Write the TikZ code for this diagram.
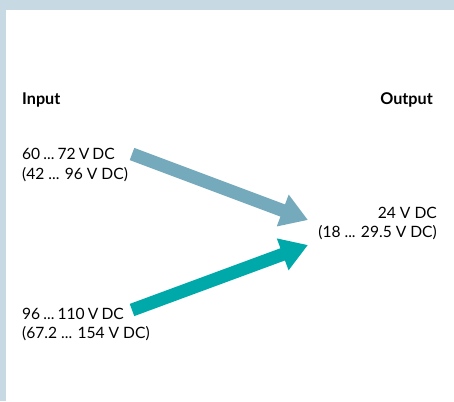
\documentclass[tikz,border=0pt]{standalone}
\usepackage{fontspec}
\setmainfont{Lato}
\usetikzlibrary{arrows.meta}
\definecolor{frameblue}{HTML}{C7DAE4}
\definecolor{arrowgray}{HTML}{75AABD}
\definecolor{arrowteal}{HTML}{00A9A9}
\newcommand{\tsp}{\hspace{0.2em}}
\tikzset{
  lbl/.style={inner sep=0pt, font=\fontsize{15.6}{19.5}\selectfont, text=black},
  hdr/.style={inner sep=0pt, font=\fontsize{16.2}{18}\selectfont\bfseries, text=black},
  fat/.style={line width=13pt, -{Triangle[length=27pt,width=32pt]}},
}
\begin{document}
\begin{tikzpicture}[x=1pt,y=-1pt]
\useasboundingbox (0,0) rectangle (454,401);
\fill[white] (0,0) rectangle (454,401);
\fill[frameblue] (0,0) rectangle (454,10);
\fill[frameblue] (0,0) rectangle (6,401);
\node[hdr, anchor=base west] (in) at (22,104.5) {Input};
\node[hdr, anchor=base east] (out) at (433,104.5) {Output};
\node[lbl, anchor=north west, align=left] (a) at (22,148) {60\tsp...\tsp72\tsp V\tsp DC\\(42 ... 96 V DC)};
\node[lbl, anchor=north west, align=left] (b) at (22,307.5) {96\tsp...\tsp110\tsp V\tsp DC\\(67.2 ... 154 V DC)};
\node[lbl, anchor=north east, align=right] (c) at (437,206.5) {24 V DC\\(18 ... 29.5 V DC)};
\coordinate (a1) at (132,154);
\coordinate (a2) at (308,220);
\coordinate (b1) at (132,310);
\coordinate (b2) at (308,245);
\draw[fat, arrowgray] (a1) -- (a2);
\draw[fat, arrowteal] (b1) -- (b2);
\end{tikzpicture}
\end{document}
